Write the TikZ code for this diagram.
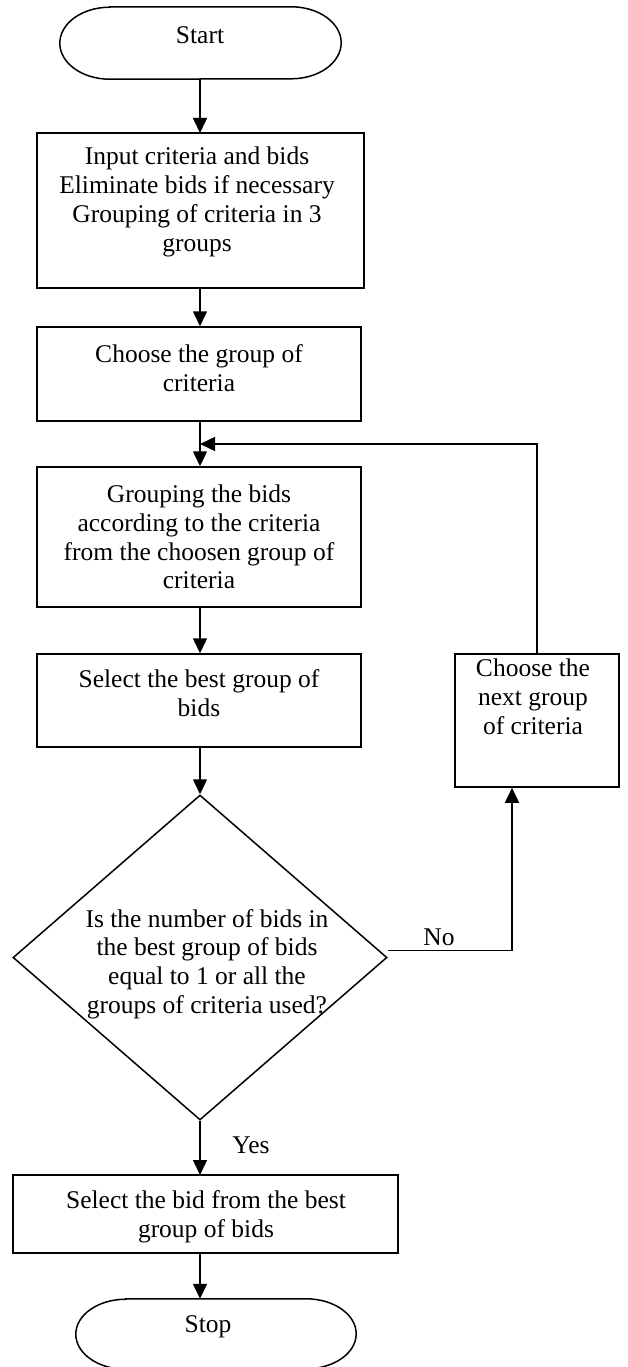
\documentclass[tikz,border=0pt]{standalone}
\usepackage{fontspec}
\setmainfont{Liberation Serif}
\usetikzlibrary{arrows.meta,shapes.geometric}
\begin{document}
\begin{tikzpicture}[x=1pt,y=1pt,
  box/.style={draw,line width=1.5pt,rectangle,inner sep=0pt},
  shp/.style={inner sep=0pt},
  txt/.style={align=center,inner sep=0pt,font=\fontsize{25.5}{28.8}\selectfont},
  lbl/.style={inner sep=0pt,font=\fontsize{25.5}{28.8}\selectfont},
  arr/.style={line width=1.5pt,-{Triangle[length=15pt,width=14pt]}},
  ln/.style={line width=1.5pt}]
\useasboundingbox (0,0) rectangle (628,-1367);
% terminal Start
\node[shp,minimum width=281pt,minimum height=72pt] (start) at (200.5,-43) {};
\draw[ln] ([xshift=50pt]start.north west) -- ([xshift=-50pt]start.north east)
  arc[start angle=90,end angle=-90,x radius=50pt,y radius=36pt]
  -- ([xshift=50pt]start.south west)
  arc[start angle=270,end angle=90,x radius=50pt,y radius=36pt] -- cycle;
\node[txt] (tstart) at (200,-35) {Start};
% boxes
\node[box,minimum width=327pt,minimum height=155pt] (b1) at (200.5,-210.5) {};
\node[txt] (t1) at (197,-202) {Input criteria and bids\\Eliminate bids if necessary\\Grouping of criteria in 3\\groups};
\node[box,minimum width=324pt,minimum height=94pt] (b2) at (199,-374) {};
\node[txt] (t2) at (199,-368) {Choose the group of\\criteria};
\node[box,minimum width=324pt,minimum height=140pt] (b3) at (199,-537) {};
\node[txt] (t3) at (199,-537) {Grouping the bids\\according to the criteria\\from the choosen group of\\criteria};
\node[box,minimum width=324pt,minimum height=93pt] (b4) at (199,-700.5) {};
\node[txt] (t4) at (199,-693) {Select the best group of\\bids};
% decision
\node[shp,draw,line width=1.5pt,diamond,minimum width=374pt,minimum height=325pt] (d) at (200,-957.5) {};
\node[txt] (td) at (207,-964) {Is the number of bids in\\the best group of bids\\equal to 1 or all the\\groups of criteria used?};
% next group box
\node[box,minimum width=164pt,minimum height=133pt] (nb) at (537,-720.5) {};
\node[txt] (tnb) at (533,-697) {Choose the\\next group\\of criteria};
% final box
\node[box,minimum width=385pt,minimum height=78pt] (b5) at (205.5,-1214) {};
\node[txt] (t5) at (206,-1217) {Select the bid from the best\\group of bids};
% terminal Stop
\node[shp,minimum width=280pt,minimum height=70pt] (stop) at (216,-1334) {};
\draw[ln] ([xshift=50pt]stop.north west) -- ([xshift=-50pt]stop.north east)
  arc[start angle=90,end angle=-90,x radius=50pt,y radius=35pt]
  -- ([xshift=50pt]stop.south west)
  arc[start angle=270,end angle=90,x radius=50pt,y radius=35pt] -- cycle;
\node[txt] (tstop) at (208,-1327) {Stop};
% connectors
\coordinate (fb) at (200,-444);
\draw[arr] (200,-79) -- (200,-133);
\draw[arr] (b1.south -| 200,0) -- (b2.north -| 200,0);
\draw[arr] (b2.south -| 200,0) -- (b3.north -| 200,0);
\draw[arr] (nb.north) |- (fb);
\draw[arr] (b3.south -| 200,0) -- (b4.north -| 200,0);
\draw[arr] (b4.south -| 200,0) -- (d.north);
\draw[arr] (d.south) -- (200,-1175);
\draw[arr] ([yshift=7pt]d.east) -| ([xshift=-25pt]nb.south);
\draw[arr] (200,-1253) -- (stop.north -| 200,0);
\node[lbl] (no) at (439,-937) {No};
\node[lbl] (yes) at (251,-1145) {Yes};
\end{tikzpicture}
\end{document}
